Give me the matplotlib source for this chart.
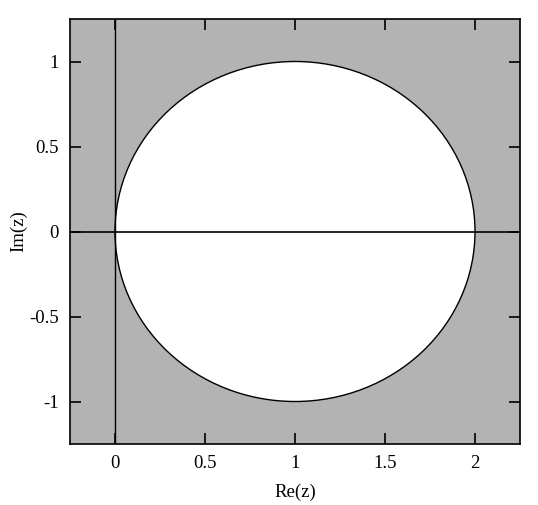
import matplotlib
matplotlib.use("Agg")
import matplotlib.pyplot as plt
from matplotlib.patches import Circle

# stability region: disk |z - 1| <= 1
center = (1.0, 0.0)
radius = 1.0
x_limits = (-0.25, 2.25)
y_limits = (-1.25, 1.25)
x_ticks = [0, 0.5, 1, 1.5, 2]
x_tick_labels = ["0", "0.5", "1", "1.5", "2"]
y_ticks = [-1, -0.5, 0, 0.5, 1]
y_tick_labels = ["-1", "-0.5", "0", "0.5", "1"]

plt.rcParams['font.family'] = ['Liberation Serif', 'DejaVu Serif']

fig = plt.figure(figsize=(5.38, 5.05), dpi=100)
ax = fig.add_axes([70 / 538, 61 / 505, 450 / 538, 425 / 505])
ax.set_facecolor("#b3b3b3")

ax.add_patch(Circle(center, radius, facecolor="white", edgecolor="black", linewidth=1.0, zorder=2))
ax.axhline(0, color="black", linewidth=1.2, zorder=3)
ax.axvline(0, color="black", linewidth=1.0, zorder=3)

ax.set_xlim(*x_limits)
ax.set_ylim(*y_limits)
ax.set_xticks(x_ticks)
ax.set_xticklabels(x_tick_labels)
ax.set_yticks(y_ticks)
ax.set_yticklabels(y_tick_labels)
ax.tick_params(direction="in", length=8, width=1.2, labelsize=13.5, pad=8,
               top=True, right=True)
for spine in ax.spines.values():
    spine.set_linewidth(1.2)

ax.set_xlabel("Re(z)", fontsize=13.5, labelpad=8)
ax.set_ylabel("Im(z)", fontsize=13.5, labelpad=1)

fig.savefig("out.png", dpi=100)
